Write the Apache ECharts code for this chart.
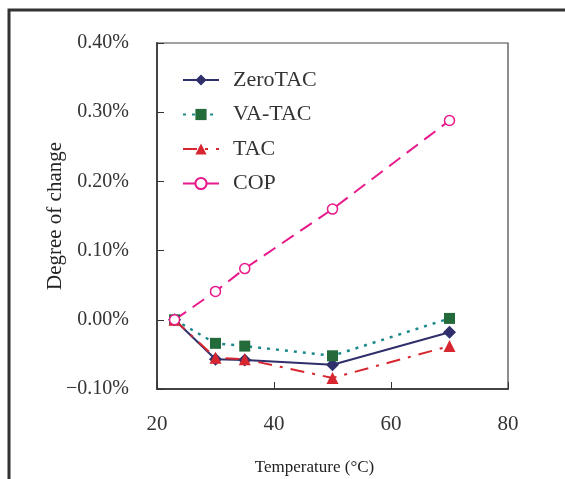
<!DOCTYPE html>
<html>
<head>
<meta charset="utf-8">
<script src="https://cdn.jsdelivr.net/npm/echarts@6/dist/echarts.min.js"></script>
<style>html,body{margin:0;padding:0;background:#fff;}#c{width:565px;height:479px;}</style>
</head>
<body>
<div id="c"></div>
<script>
const temps = [23, 30, 35, 50, 70];
const zeroTAC = [0, -0.057, -0.058, -0.065, -0.018];
const vaTAC = [0, -0.034, -0.038, -0.052, 0.002];
const tac = [0, -0.055, -0.057, -0.084, -0.038];
const cop = [0, 0.041, 0.074, 0.160, 0.288];
const seriesNames = ['ZeroTAC', 'VA-TAC', 'TAC', 'COP'];
const xTicks = [20, 40, 60, 80];
const yTicks = [-0.10, 0.00, 0.10, 0.20, 0.30, 0.40];

function pairs(ys) { return temps.map((t, i) => [t, ys[i]]); }
const font = '"Liberation Serif", "DejaVu Serif", serif';
const chart = echarts.init(document.getElementById('c'), null, {renderer: 'canvas'});
chart.setOption({
  animation: false,
  backgroundColor: '#fff',
  grid: {left: 157, top: 43, right: 57, bottom: 90, show: true, borderColor: '#444', borderWidth: 1.2,
         containLabel: false, outerBoundsMode: 'none'},
  graphic: [
    {type: 'polyline', shape: {points: [[9, 479], [9, 10], [565, 10]]}, style: {stroke: '#333', lineWidth: 3, fill: null}}
  ],
  xAxis: {
    type: 'value', min: xTicks[0], max: xTicks[xTicks.length - 1], interval: 20,
    axisLine: {onZero: false, lineStyle: {color: '#444', width: 2}},
    axisTick: {inside: true, length: 7, lineStyle: {color: '#333'}},
    splitLine: {show: false},
    axisLabel: {fontFamily: font, fontSize: 21, color: '#333', margin: 25},
    name: 'Temperature (°C)', nameLocation: 'middle', nameGap: 70, nameMoveOverlap: false,
    nameTextStyle: {fontFamily: font, fontSize: 17, color: '#222', padding: [0, 36, 0, 0]}
  },
  yAxis: {
    type: 'value', min: yTicks[0], max: yTicks[yTicks.length - 1], interval: 0.1,
    axisLine: {onZero: false, lineStyle: {color: '#444', width: 2}},
    axisTick: {inside: true, length: 7, lineStyle: {color: '#333'}},
    splitLine: {show: false},
    axisLabel: {fontFamily: font, fontSize: 20, color: '#333', margin: 28,
      formatter: v => (v < -1e-9 ? '\u2212' + Math.abs(v).toFixed(2) : Math.abs(v).toFixed(2)) + '%'},
    name: 'Degree of change', nameLocation: 'middle', nameGap: 91, nameMoveOverlap: false,
    nameTextStyle: {fontFamily: font, fontSize: 21, color: '#222'}
  },
  legend: {
    orient: 'vertical', left: 177, top: 64, itemGap: 12.5, itemWidth: 36, itemHeight: 14,
    data: seriesNames,
    textStyle: {fontFamily: font, fontSize: 22, color: '#333', padding: [0, 0, 0, 9]}
  },
  series: [
    {name: seriesNames[0], type: 'line', data: pairs(zeroTAC), symbol: 'diamond', symbolSize: 13,
     itemStyle: {color: '#2f2f6b'}, lineStyle: {color: '#2f2f6b', width: 2}},
    {name: seriesNames[1], type: 'line', data: pairs(vaTAC), symbol: 'rect', symbolSize: 11,
     itemStyle: {color: '#236b3b'}, lineStyle: {color: '#1f8a8a', width: 2.5, type: [3, 6]}},
    {name: seriesNames[2], type: 'line', data: pairs(tac), symbol: 'triangle', symbolSize: 12,
     itemStyle: {color: '#d7262f'}, lineStyle: {color: '#d7262f', width: 2, type: [14, 8, 3, 8]}},
    {name: seriesNames[3], type: 'line', data: pairs(cop), symbol: 'circle', symbolSize: 10,
     itemStyle: {color: '#fff', borderColor: '#e8198b', borderWidth: 1.5}, lineStyle: {color: '#e8198b', width: 2, type: [14, 8]}}
  ]
});
</script>
</body>
</html>
